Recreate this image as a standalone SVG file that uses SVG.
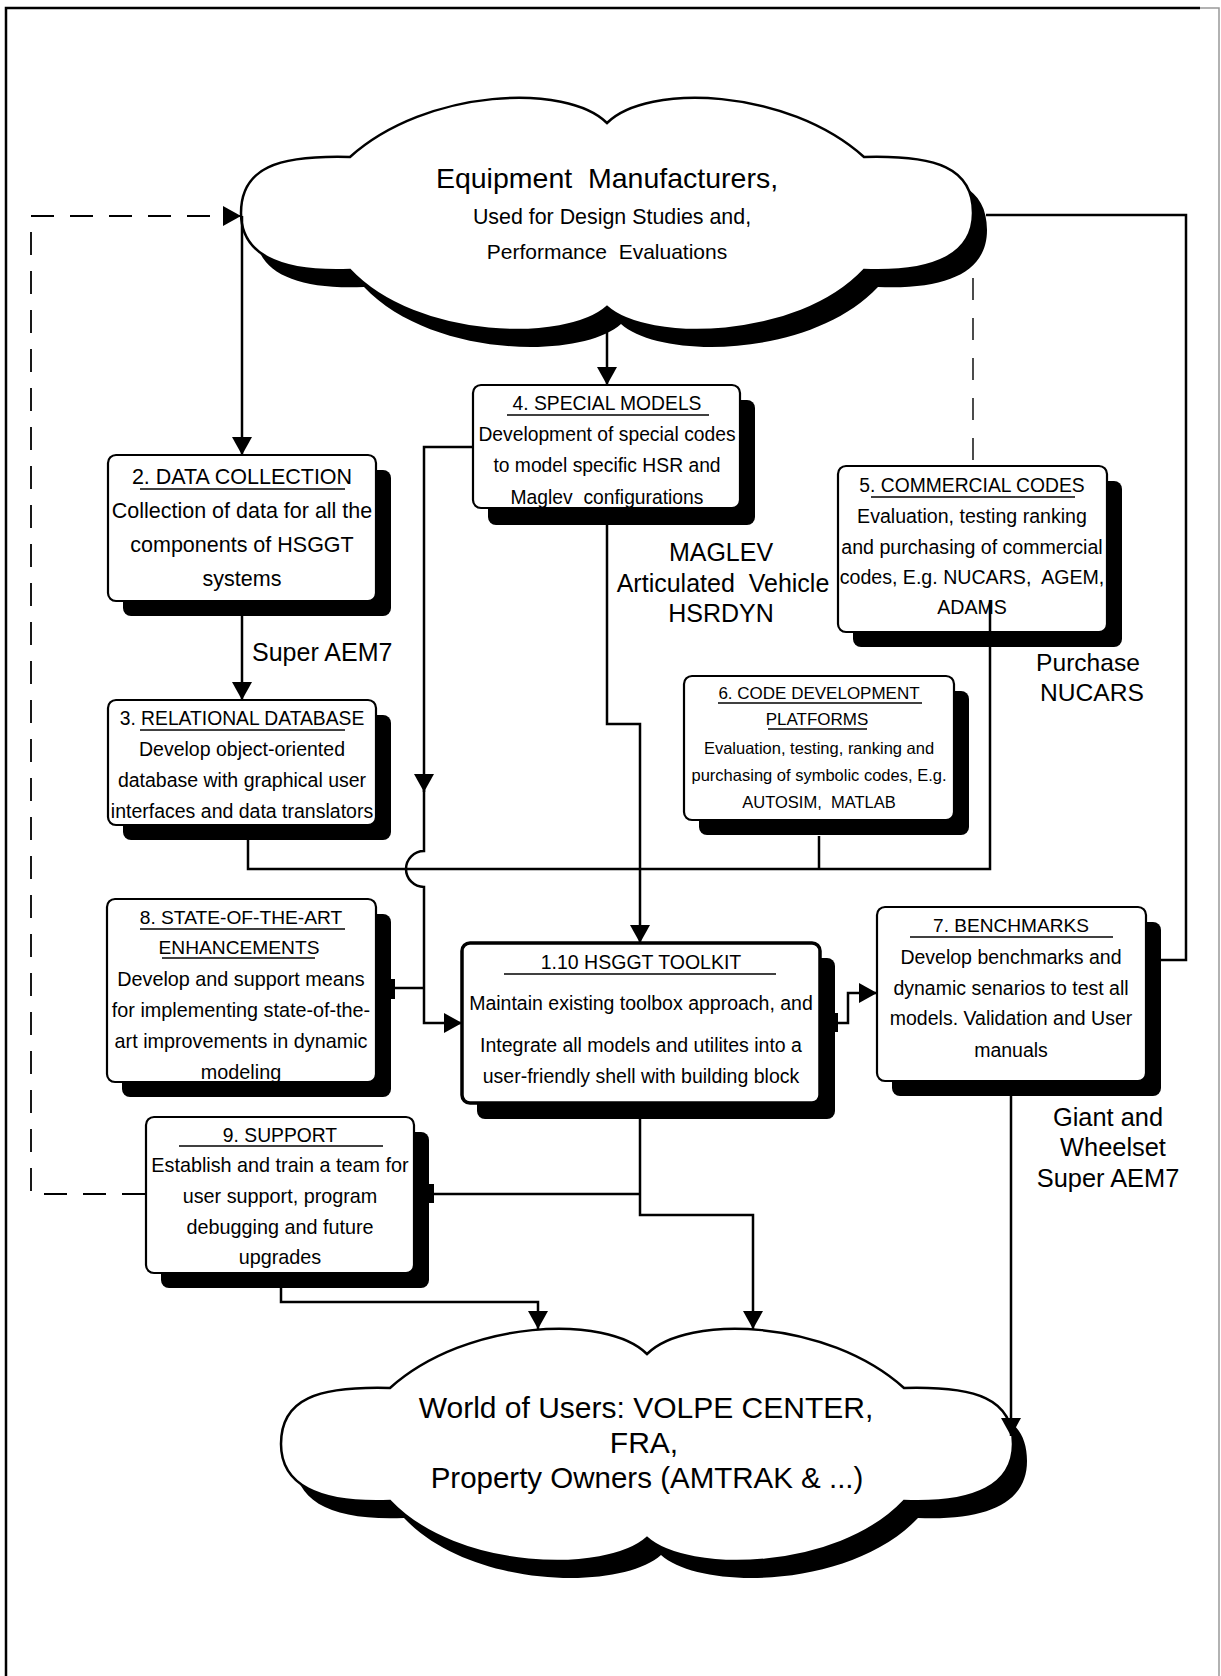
<svg xmlns="http://www.w3.org/2000/svg" width="1221" height="1676" viewBox="0 0 1221 1676">
<style>
.bg{fill:#fff}
.box{fill:#fff;stroke:#000;stroke-width:2.2}
.tk{fill:#fff;stroke:#000;stroke-width:3.5}
.sh{fill:#000}
.t{font-family:"Liberation Sans",Arial,Helvetica,sans-serif;fill:#000;text-anchor:middle;white-space:pre}
.ts{font-family:"Liberation Sans",Arial,Helvetica,sans-serif;fill:#000;text-anchor:start;white-space:pre}
.ul{stroke:#000;stroke-width:1.6;fill:none}
.conn{fill:none;stroke:#000;stroke-width:2.5}
.dash{stroke-width:1.8;stroke-dasharray:23 16}
.thin{stroke-width:1.4;stroke-dasharray:22 18}
.cloud{fill:#fff;stroke:#000;stroke-width:2.5}
</style>
<defs>
<path id="cl" d="M-257,-56 C-180,-125 -40,-130 0,-90 C40,-130 180,-125 257,-56 C330,-58 366,-45 366,0 C366,40 330,60 257,57 C190,128 40,130 0,94 C-40,130 -190,128 -257,57 C-330,60 -366,40 -366,0 C-366,-45 -330,-58 -257,-56 Z"/>
<marker id="ah" markerUnits="userSpaceOnUse" markerWidth="18" markerHeight="20" refX="18" refY="10" orient="auto" viewBox="0 0 18 20"><path d="M0,0 L18,10 L0,20 Z" fill="#000"/></marker>
</defs>
<rect class="bg" x="0" y="0" width="1221" height="1676"/>
<g id="frame">
<path d="M6,1676 V8 H1200" fill="none" stroke="#000" stroke-width="2.5"/>
<path d="M1200,8 H1219 V1676" fill="none" stroke="#999" stroke-width="1.5"/>
</g>

<g id="cloud-manufacturers">
<use href="#cl" transform="translate(621,230)" class="sh"/>
<use href="#cl" transform="translate(607,213)" class="cloud"/>
<text class="t" xml:space="preserve" x="607" y="188" font-size="28.5">Equipment  Manufacturers,</text>
<text class="t" x="612" y="224" font-size="21.4">Used for Design Studies and,</text>
<text class="t" xml:space="preserve" x="607" y="259" font-size="21">Performance  Evaluations</text>
</g>

<g id="cloud-users">
<use href="#cl" transform="translate(661,1461)" class="sh"/>
<use href="#cl" transform="translate(647,1444)" class="cloud"/>
<text class="t" x="646" y="1418" font-size="30">World of Users: VOLPE CENTER,</text>
<text class="t" x="644" y="1453" font-size="30">FRA,</text>
<text class="t" x="647" y="1488" font-size="29.5">Property Owners (AMTRAK &amp; ...)</text>
</g>

<g id="node-2">
<rect class="sh" x="123" y="470" width="268" height="146" rx="8"/>
<rect class="box" x="108" y="455" width="268" height="146" rx="8"/>
<text class="t" x="242" y="484" font-size="21.5">2. DATA COLLECTION</text>
<line class="ul" x1="140" y1="489" x2="345" y2="489"/>
<text class="t" x="242" y="518" font-size="21.5">Collection of data for all the</text>
<text class="t" x="242" y="552" font-size="21.5">components of HSGGT</text>
<text class="t" x="242" y="586" font-size="21.5">systems</text>
</g>

<g id="node-3">
<rect class="sh" x="123" y="715" width="268" height="125" rx="8"/>
<rect class="box" x="108" y="700" width="268" height="125" rx="8"/>
<text class="t" x="242" y="725" font-size="19.3">3. RELATIONAL DATABASE</text>
<line class="ul" x1="140" y1="730" x2="345" y2="730"/>
<text class="t" x="242" y="756" font-size="19.5">Develop object-oriented</text>
<text class="t" x="242" y="787" font-size="19.5">database with graphical user</text>
<text class="t" x="242" y="818" font-size="19.5">interfaces and data translators</text>
</g>

<g id="node-4">
<rect class="sh" x="488" y="400" width="267" height="125" rx="8"/>
<rect class="box" x="473" y="385" width="267" height="123" rx="8"/>
<text class="t" x="607" y="410" font-size="19.3">4. SPECIAL MODELS</text>
<line class="ul" x1="507" y1="415" x2="709" y2="415"/>
<text class="t" x="607" y="441" font-size="19.3">Development of special codes</text>
<text class="t" x="607" y="472" font-size="19.3">to model specific HSR and</text>
<text class="t" xml:space="preserve" x="607" y="504" font-size="19.3">Maglev  configurations</text>
</g>

<g id="node-5">
<rect class="sh" x="853" y="481" width="269" height="166" rx="8"/>
<rect class="box" x="838" y="466" width="269" height="166" rx="8"/>
<text class="t" x="972" y="492" font-size="19.3">5. COMMERCIAL CODES</text>
<line class="ul" x1="871" y1="497" x2="1075" y2="497"/>
<text class="t" x="972" y="523" font-size="19.6">Evaluation, testing ranking</text>
<text class="t" x="972" y="554" font-size="19.6">and purchasing of commercial</text>
<text class="t" xml:space="preserve" x="972" y="584" font-size="19.6">codes, E.g. NUCARS,  AGEM,</text>
<text class="t" x="972" y="614" font-size="19.6">ADAMS</text>
</g>

<g id="node-6">
<rect class="sh" x="699" y="691" width="270" height="144" rx="8"/>
<rect class="box" x="684" y="676" width="270" height="144" rx="8"/>
<text class="t" x="819" y="699" font-size="17">6. CODE DEVELOPMENT</text>
<line class="ul" x1="718" y1="703" x2="922" y2="703"/>
<text class="t" x="817" y="725" font-size="17">PLATFORMS</text>
<line class="ul" x1="768" y1="729" x2="867" y2="729"/>
<text class="t" x="819" y="754" font-size="16.5">Evaluation, testing, ranking and</text>
<text class="t" x="819" y="781" font-size="16.5">purchasing of symbolic codes, E.g.</text>
<text class="t" xml:space="preserve" x="819" y="808" font-size="16.5">AUTOSIM,  MATLAB</text>
</g>

<g id="node-7">
<rect class="sh" x="892" y="922" width="269" height="174" rx="8"/>
<rect class="box" x="877" y="907" width="269" height="174" rx="8"/>
<text class="t" x="1011" y="932" font-size="19.1">7. BENCHMARKS</text>
<line class="ul" x1="910" y1="937" x2="1113" y2="937"/>
<text class="t" x="1011" y="964" font-size="19.5">Develop benchmarks and</text>
<text class="t" x="1011" y="995" font-size="19.5">dynamic senarios to test all</text>
<text class="t" x="1011" y="1025" font-size="19.5">models. Validation and User</text>
<text class="t" x="1011" y="1057" font-size="19.5">manuals</text>
</g>

<g id="node-1-10">
<rect class="sh" x="477" y="958" width="358" height="161" rx="8"/>
<rect class="tk" x="462" y="943" width="358" height="160" rx="8"/>
<text class="t" x="641" y="969" font-size="19.5">1.10 HSGGT TOOLKIT</text>
<line class="ul" x1="504" y1="974" x2="776" y2="974" stroke-width="3"/>
<text class="t" x="641" y="1010" font-size="19.5">Maintain existing toolbox approach, and</text>
<text class="t" x="641" y="1052" font-size="19.5">Integrate all models and utilites into a</text>
<text class="t" x="641" y="1083" font-size="19.5">user-friendly shell with building block</text>
</g>

<g id="node-8">
<rect class="sh" x="122" y="914" width="269" height="183" rx="8"/>
<rect class="box" x="107" y="899" width="269" height="183" rx="8"/>
<text class="t" x="241" y="924" font-size="19.2">8. STATE-OF-THE-ART</text>
<line class="ul" x1="140" y1="929" x2="345" y2="929"/>
<text class="t" x="239" y="954" font-size="19.2">ENHANCEMENTS</text>
<line class="ul" x1="162" y1="958" x2="315" y2="958"/>
<text class="t" x="241" y="986" font-size="19.8">Develop and support means</text>
<text class="t" x="241" y="1017" font-size="19.8">for implementing state-of-the-</text>
<text class="t" x="241" y="1048" font-size="19.8">art improvements in dynamic</text>
<text class="t" x="241" y="1079" font-size="19.8">modeling</text>
</g>

<g id="node-9">
<rect class="sh" x="161" y="1132" width="268" height="156" rx="8"/>
<rect class="box" x="146" y="1117" width="268" height="156" rx="8"/>
<text class="t" x="280" y="1142" font-size="19.3">9. SUPPORT</text>
<line class="ul" x1="179" y1="1146" x2="383" y2="1146"/>
<text class="t" x="280" y="1172" font-size="19.8">Establish and train a team for</text>
<text class="t" x="280" y="1203" font-size="19.8">user support, program</text>
<text class="t" x="280" y="1234" font-size="19.8">debugging and future</text>
<text class="t" x="280" y="1264" font-size="19.8">upgrades</text>
</g>

<g id="connectors">
<path class="conn dash" d="M145,1194 H31 V216 H241" marker-end="url(#ah)"/>
<path class="conn thin" d="M973,278 V466"/>
<path class="conn" d="M986,215 H1186 V960 H1161"/>
<path class="conn" d="M607,326 V385" marker-end="url(#ah)"/>
<path class="conn" d="M242,216 V455" marker-end="url(#ah)"/>
<path class="conn" d="M242,616 V700" marker-end="url(#ah)"/>
<path class="conn" d="M473,447 H424 V792" marker-end="url(#ah)"/>
<path class="conn" d="M424,790 V851 A18,18 0 0 0 424,887 V1023 H462" marker-end="url(#ah)"/>
<path class="conn" d="M391,988 H424"/>
<path class="conn" d="M248,825 V869 H990 V600"/>
<path class="conn" d="M819,836 V869"/>
<path class="conn" d="M607,525 V724 H640 V943" marker-end="url(#ah)"/>
<path class="conn" d="M834,1023 H848 V993 H877" marker-end="url(#ah)"/>
<path class="conn" d="M429,1194 H640"/>
<path class="conn" d="M640,1119 V1215 H753 V1329" marker-end="url(#ah)"/>
<path class="conn" d="M281,1288 V1302 H538 V1329" marker-end="url(#ah)"/>
<path class="conn" d="M1011,1096 V1436" marker-end="url(#ah)"/>
<rect x="390" y="979" width="5" height="20" fill="#000"/>
<rect x="833" y="1013" width="5" height="19" fill="#000"/>
<rect x="429" y="1184" width="5" height="19" fill="#000"/>
</g>

<g id="labels">
<text class="t" x="721" y="561" font-size="25">MAGLEV</text>
<text class="t" xml:space="preserve" x="723" y="592" font-size="25">Articulated  Vehicle</text>
<text class="t" x="721" y="622" font-size="25">HSRDYN</text>
<text class="t" x="1088" y="671" font-size="24.6">Purchase</text>
<text class="t" x="1092" y="701" font-size="24.6">NUCARS</text>
<text class="ts" x="252" y="661" font-size="25">Super AEM7</text>
<text class="t" x="1108" y="1126" font-size="25.4">Giant and</text>
<text class="t" x="1113" y="1156" font-size="25.4">Wheelset</text>
<text class="t" x="1108" y="1187" font-size="25.4">Super AEM7</text>
</g>
</svg>
